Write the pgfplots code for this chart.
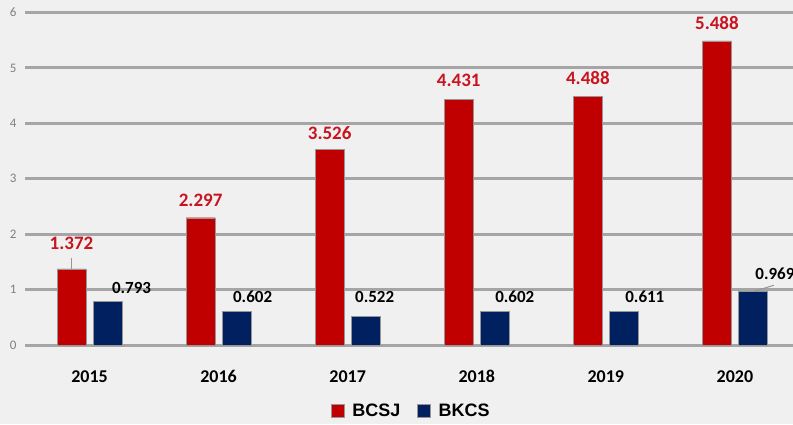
\documentclass[border=0pt]{standalone}
\usepackage{pgfplots}
\pgfplotsset{compat=1.18}
\usepackage{pgfplotstable}
\usepackage{fontspec}
\setmainfont{Carlito}
\newfontfamily\legfont{Liberation Sans}
\definecolor{bg}{RGB}{240,240,240}
\definecolor{barred}{RGB}{192,0,0}
\definecolor{barblue}{RGB}{0,32,96}
\definecolor{gridc}{RGB}{165,165,165}
\definecolor{tickc}{RGB}{128,128,128}
\definecolor{lblred}{RGB}{200,20,30}
\definecolor{edgec}{RGB}{150,150,150}

\pgfplotstableread{
x y dy
0 1.372 26
1 2.297 17
2 3.526 17
3 4.431 19
4 4.488 18
5 5.488 18
}\bcsj

\pgfplotstableread{
x y dx dy
0 0.793 24 13
1 0.602 16 15
2 0.522 9 19
3 0.602 20 15
4 0.611 21 14
5 0.969 22 18
}\bkcs

\begin{document}
\begin{tikzpicture}
\fill[bg] (0,0) rectangle (793pt,424pt);
\begin{axis}[
  at={(25pt,79pt)}, anchor=south west,
  scale only axis, width=768pt, height=332.5pt,
  xmin=-0.5, xmax=5.45, ymin=0, ymax=6,
  axis line style={draw=none},
  tick style={draw=none},
  major tick length=0pt,
  ymajorgrids,
  grid style={gridc, line width=3pt},
  major grid style={gridc, line width=3pt},
  xtick={0,1,2,3,4,5},
  xticklabels={2015,2016,2017,2018,2019,2020},
  ytick={0,1,2,3,4,5,6},
  /pgf/number format/assume math mode=true,
  yticklabel style={font=\fontsize{13}{13}\selectfont, text=tickc, xshift=-5pt},
  xticklabel style={font=\fontsize{18}{18}\selectfont\bfseries, yshift=-22pt},
  ybar=7pt, bar width=29pt,
  legend columns=2,
  legend style={at={(0.503,-0.1985)}, anchor=center, draw=none, fill=none,
    font=\legfont\fontsize{18}{18}\selectfont\bfseries},
  legend image code/.code={\fill[#1] (0pt,-6.5pt) rectangle (13pt,6.5pt); \path[draw=none,fill=none] (0pt,0pt) -- (19pt,0pt);},
]
\addplot[fill=barred, draw=edgec, line width=0.4pt,
  nodes near coords,
  visualization depends on={\thisrow{dy} \as \dy},
  every node near coord/.append style={font=\fontsize{19}{19}\selectfont\bfseries,
    text=lblred, anchor=center, yshift=\dy pt},
  nodes near coords={\pgfmathprintnumber[fixed,precision=3,fixed zerofill]{\pgfplotspointmeta}}]
  table[x=x, y=y] {\bcsj};
\addlegendentry{BCSJ\rule{15pt}{0pt}}
\addplot[fill=barblue, draw=edgec, line width=0.4pt,
  nodes near coords,
  visualization depends on={\thisrow{dy} \as \dy},
  visualization depends on={\thisrow{dx} \as \dx},
  every node near coord/.append style={font=\fontsize{17}{17}\selectfont\bfseries,
    text=black, anchor=center, yshift=\dy pt, xshift=\dx pt},
  nodes near coords={\pgfmathprintnumber[fixed,precision=3,fixed zerofill]{\pgfplotspointmeta}}]
  table[x=x, y=y] {\bkcs};
\addlegendentry{BKCS}
\draw[edgec, line width=1pt] ([xshift=-18pt]axis cs:0,1.372) -- ++(0pt,11pt);
\draw[edgec, line width=1pt] ([xshift=19pt]axis cs:5,0.969) -- ++(20pt,6pt);
\end{axis}
\pgfresetboundingbox
\useasboundingbox (0,0) rectangle (793pt,424pt);
\end{tikzpicture}
\end{document}
